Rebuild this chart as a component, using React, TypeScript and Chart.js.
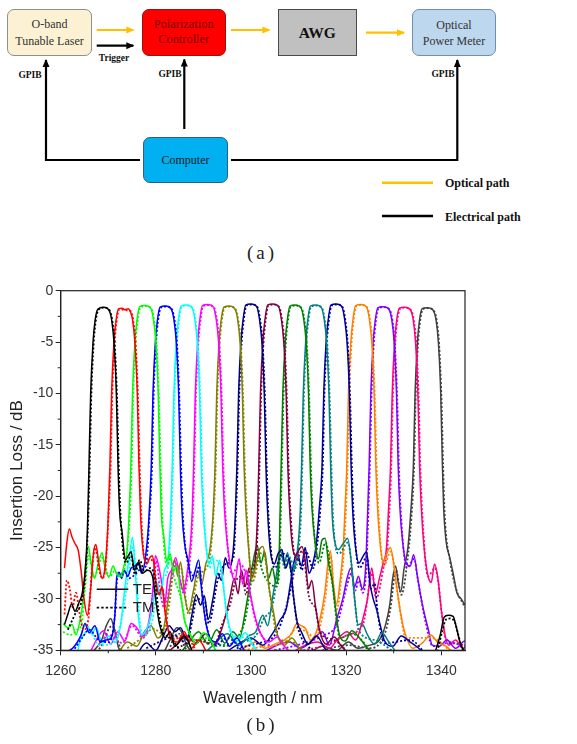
import React, { useEffect, useRef } from "react";
import { Chart, registerables } from "chart.js";

Chart.register(...registerables);

type Pt = [number, number | null];

const xTicks = [1260, 1280, 1300, 1320, 1340];
const xMinorTicks = [1270, 1290, 1310, 1330];
const yTicks = [0, -5, -10, -15, -20, -25, -30, -35];
const yMinorTicks = [-2.5, -7.5, -12.5, -17.5, -22.5, -27.5, -32.5];

const channelNames = ["CH1", "CH2", "CH3", "CH4", "CH5", "CH6", "CH7", "CH8", "CH9", "CH10", "CH11", "CH12", "CH13", "CH14", "CH15", "CH16"];
const channelColors = ["#000000", "#ff0000", "#00ff00", "#0000ff", "#00ffff", "#ff00ff", "#808000", "#000080", "#800040", "#008000", "#008080", "#0000a0", "#ff8000", "#8000ff", "#ff0080", "#404040"];

const ch01TE: Pt[] = [[1260.8,-32.5],[1261.5,-31.5],[1262.3,-30.5],[1263.0,-31.2],[1263.8,-30.4],[1264.5,-29.5],[1265.1,-27.5],[1265.6,-23.5],[1265.95,-17],[1266.3,-10],[1266.8,-5],[1267.2,-3],[1267.8,-1.8],[1269.0,-1.6],[1270.1,-1.85],[1270.7,-2.8],[1271.2,-5],[1271.7,-10],[1272.05,-17],[1272.4,-21.5],[1272.9,-23.5],[1273.6,-26.2],[1274.2,-25.8],[1274.8,-25.4],[1275.5,-27.2],[1276.4,-26.4],[1277.2,-27.5],[1278.2,-27.2],[1279.3,-27.8],[1280.1,-30.5],[1280.8,-32.5],[1282.0,-33.8],[1283.0,-33.2],[1284.0,-34.6],[1286.0,-33.6],[1288.0,-35.5],[1300,null],[1338.5,-35.5],[1339.8,-33.5],[1340.6,-31.8],[1341.5,-31.6],[1342.5,-31.7],[1343.2,-32.8],[1344.0,-34.3],[1345.0,-35.2]];
const ch01TM: Pt[] = [[1261.5,-33],[1263.0,-31.5],[1264.5,-30],[1265.3,-27],[1265.8,-22],[1266.1,-17],[1266.45,-10],[1266.95,-5],[1267.35,-3],[1267.95,-1.85],[1269.15,-1.65],[1270.25,-1.9],[1270.85,-2.9],[1271.35,-5.2],[1271.85,-10.5],[1272.2,-17],[1272.6,-22],[1273.7,-26.5],[1274.8,-25.8],[1275.6,-27.6],[1276.6,-26.2],[1277.6,-27.3],[1278.8,-27.0],[1279.8,-28.0],[1280.5,-31],[1281.3,-33],[1283.0,-33.8],[1286.0,-35.5],[1300,null],[1339.0,-35.5],[1340.2,-33.2],[1341.0,-32],[1342.0,-31.9],[1342.9,-32.3],[1343.6,-33.5],[1344.5,-35],[1345.5,-35.5]];

const ch02TE: Pt[] = [[1260.8,-27],[1261.3,-24.5],[1261.8,-23.2],[1262.4,-24],[1263.0,-24.6],[1263.7,-25.3],[1264.3,-27.3],[1264.9,-30],[1265.6,-31.6],[1266.3,-29],[1266.9,-25.5],[1267.4,-24.7],[1268.0,-26.5],[1268.7,-28.0],[1269.3,-27],[1269.9,-23],[1270.35,-17],[1270.7,-10],[1271.2,-5],[1271.6,-3],[1272.2,-1.75],[1272.9,-1.7],[1273.5,-1.85],[1274.2,-1.75],[1274.5,-1.9],[1275.1,-2.8],[1275.6,-5],[1276.1,-10],[1276.45,-17],[1276.8,-22],[1277.4,-25.6],[1278.1,-26.6],[1278.7,-26.0],[1279.3,-25.8],[1280.0,-28.3],[1280.7,-29.6],[1281.3,-28.8],[1282.0,-31.5],[1283.0,-33.6],[1284.5,-34.2],[1286.0,-33.2],[1287.5,-34.8],[1289.0,-34],[1291.0,-35.5]];
const ch02TM: Pt[] = [[1260.8,-31.5],[1261.3,-28.2],[1261.9,-29],[1262.5,-30.8],[1263.2,-29.4],[1264.0,-31.5],[1264.8,-33],[1265.8,-32],[1266.6,-27],[1267.3,-25],[1268.0,-27],[1268.8,-28.0],[1269.5,-26.5],[1270.05,-22],[1270.5,-17],[1270.85,-10],[1271.35,-5],[1271.75,-3],[1272.35,-1.8],[1273.65,-1.9],[1274.65,-1.95],[1275.25,-2.9],[1275.75,-5.2],[1276.25,-10.5],[1276.6,-17],[1277.0,-22.5],[1277.6,-26],[1278.9,-26.2],[1279.6,-26.5],[1280.4,-29.5],[1281.4,-29],[1282.2,-32],[1283.5,-34],[1286.0,-33.5],[1289.0,-35.5]];

const ch03TE: Pt[] = [[1260.5,-32.4],[1261.5,-32.8],[1262.4,-32.5],[1263.2,-33.5],[1264.0,-32.2],[1264.6,-30.5],[1265.2,-27],[1265.8,-24.9],[1266.4,-26.5],[1267.1,-28.0],[1267.9,-26.5],[1268.7,-25.5],[1269.4,-27.2],[1270.2,-27.8],[1271.0,-26.8],[1271.7,-27.5],[1272.5,-27.8],[1273.3,-26.8],[1274.0,-25],[1274.4,-21.5],[1274.75,-17],[1275.1,-10],[1275.6,-5],[1276.0,-3],[1276.6,-1.55],[1277.7,-1.45],[1278.9,-1.7],[1279.5,-2.8],[1280.0,-5],[1280.5,-10],[1280.85,-17],[1281.2,-22],[1281.7,-24],[1282.3,-26.3],[1283.0,-25.6],[1283.7,-27.3],[1284.4,-26.8],[1285.2,-29.5],[1286.0,-32],[1287.0,-33.2],[1288.5,-34.4],[1290.0,-33.3],[1291.5,-34],[1293.0,-35.5]];
const ch03TM: Pt[] = [[1260.5,-33.2],[1262.0,-33.5],[1263.5,-33],[1264.4,-32.4],[1265.1,-29],[1265.9,-25.8],[1267.0,-27.9],[1268.7,-26],[1270.2,-27.9],[1271.3,-27.3],[1272.6,-27.9],[1273.6,-26.5],[1274.5,-22],[1274.9,-17],[1275.25,-10],[1275.75,-5],[1276.15,-3],[1276.75,-1.6],[1277.85,-1.5],[1279.05,-1.75],[1279.65,-2.9],[1280.15,-5.2],[1280.65,-10.5],[1281.0,-17],[1281.4,-22.5],[1282.4,-26.8],[1283.1,-26],[1283.8,-27.8],[1285.3,-30],[1286.3,-32.5],[1288.5,-34],[1291.0,-33.8],[1293.0,-35.5]];

const ch04TE: Pt[] = [[1260.5,-35.2],[1262.5,-34.8],[1264.3,-33.5],[1265.1,-32.4],[1266.0,-33.3],[1267.2,-32.6],[1268.3,-34.2],[1269.5,-34.0],[1270.6,-33.8],[1271.4,-31.5],[1271.8,-27.8],[1272.3,-27.4],[1272.8,-28.0],[1273.4,-27.2],[1274.1,-27.8],[1274.8,-27.0],[1275.6,-26.8],[1276.3,-26.5],[1277.0,-27.5],[1277.8,-26],[1278.5,-22.5],[1279.05,-17],[1279.4,-10],[1279.9,-5],[1280.3,-3],[1280.9,-1.6],[1282.0,-1.5],[1283.2,-1.75],[1283.8,-2.8],[1284.3,-5],[1284.8,-10],[1285.15,-17],[1285.5,-21.5],[1286.1,-24.8],[1286.8,-26.3],[1287.5,-28.3],[1288.3,-27.2],[1289.0,-26.2],[1289.7,-29.5],[1290.4,-32],[1291.2,-33.6],[1292.5,-34.2],[1294.0,-33.4],[1295.5,-34.6],[1297.0,-33.8],[1299.0,-35.5]];
const ch04TM: Pt[] = [[1262.0,-35.5],[1264.5,-33.8],[1266.0,-33],[1268.0,-34],[1270.2,-34.2],[1271.3,-32],[1271.9,-28],[1272.6,-27.6],[1273.5,-27.4],[1274.3,-28],[1275.7,-27.6],[1276.5,-27.2],[1277.9,-26.8],[1278.6,-22.5],[1279.2,-17],[1279.55,-10],[1280.05,-5],[1280.45,-3],[1281.05,-1.65],[1282.15,-1.55],[1283.35,-1.8],[1283.95,-2.9],[1284.45,-5.2],[1284.95,-10.5],[1285.3,-17],[1285.7,-22],[1286.9,-26.8],[1288.4,-27.8],[1289.1,-26.8],[1289.9,-30],[1290.6,-32.5],[1292.5,-34.5],[1295.0,-33.8],[1299.0,-35.5]];

const ch05TE: Pt[] = [[1263.5,-35.3],[1264.5,-33.2],[1265.5,-32.5],[1266.4,-33.4],[1267.5,-32.8],[1268.7,-34.3],[1270.0,-33.6],[1271.5,-34.2],[1272.6,-32.5],[1273.6,-28.5],[1274.4,-26],[1275.1,-24.0],[1275.7,-27.5],[1276.3,-31.5],[1277.0,-33.5],[1278.0,-33.0],[1279.0,-31.6],[1280.2,-28.4],[1281.0,-29.8],[1281.8,-27.2],[1282.5,-26.4],[1283.1,-22],[1283.45,-17],[1283.8,-10],[1284.3,-5],[1284.7,-3],[1285.3,-1.5],[1286.4,-1.4],[1287.6,-1.65],[1288.2,-2.8],[1288.7,-5],[1289.2,-10],[1289.55,-17],[1289.9,-21],[1290.5,-24.6],[1291.2,-26.6],[1291.9,-25.8],[1292.6,-27.8],[1293.4,-26.2],[1294.1,-28.4],[1294.9,-31.4],[1295.8,-33.2],[1297.2,-34.1],[1298.8,-33.3],[1300.5,-34.6],[1302.0,-35.5]];
const ch05TM: Pt[] = [[1264.0,-34],[1266.0,-33],[1268.0,-34.5],[1271.0,-34.3],[1272.8,-32],[1274.5,-26.8],[1275.2,-24.8],[1276.0,-28.5],[1276.7,-32.5],[1277.5,-33.5],[1279.4,-31.8],[1280.3,-28.8],[1281.9,-27.8],[1282.6,-26.8],[1283.25,-22],[1283.6,-17],[1283.95,-10],[1284.45,-5],[1284.85,-3],[1285.45,-1.55],[1286.55,-1.45],[1287.75,-1.7],[1288.35,-2.9],[1288.85,-5.2],[1289.35,-10.5],[1289.7,-17],[1290.1,-21.5],[1291.3,-27],[1292.0,-26.2],[1293.5,-26.6],[1295.0,-31.8],[1296.0,-33.5],[1298.8,-33.8],[1302.0,-35.5]];

const ch06TE: Pt[] = [[1266.0,-35.4],[1267.5,-34],[1269.0,-33.1],[1270.5,-34.4],[1272.0,-33.2],[1273.5,-34.1],[1274.8,-32.4],[1276.0,-32.8],[1277.2,-33.6],[1278.4,-32.5],[1279.3,-29.5],[1279.9,-25.8],[1280.6,-26.8],[1281.3,-28.6],[1281.9,-30.4],[1282.5,-28],[1283.3,-27.2],[1284.2,-26],[1285.0,-28],[1285.8,-29.2],[1286.6,-27.4],[1287.3,-24.5],[1287.7,-21],[1287.95,-17],[1288.3,-10],[1288.8,-5],[1289.2,-3],[1289.8,-1.45],[1290.9,-1.35],[1292.1,-1.6],[1292.7,-2.8],[1293.2,-5],[1293.7,-10],[1294.05,-17],[1294.4,-21],[1295.0,-24.5],[1295.8,-27.1],[1296.6,-28.3],[1297.5,-26.1],[1298.3,-28.6],[1299.0,-27.2],[1299.9,-29.6],[1300.9,-31.8],[1302.2,-33.5],[1303.8,-34.2],[1305.5,-33.7],[1307.0,-34.6],[1309.0,-35.5]];
const ch06TM: Pt[] = [[1268.0,-34.5],[1270.0,-33.5],[1273.0,-34.3],[1275.0,-32.6],[1277.3,-33.8],[1278.6,-32.4],[1279.5,-29],[1280.1,-26.3],[1280.9,-29.2],[1281.7,-30.8],[1283.4,-27.8],[1284.3,-26.6],[1285.9,-29.5],[1286.7,-27.8],[1287.4,-25],[1287.8,-21.5],[1288.1,-17],[1288.45,-10],[1288.95,-5],[1289.35,-3],[1289.95,-1.5],[1291.05,-1.4],[1292.25,-1.65],[1292.85,-2.9],[1293.35,-5.2],[1293.85,-10.5],[1294.2,-17],[1294.6,-21.5],[1296.0,-27.6],[1297.6,-26.6],[1299.1,-27.8],[1300.0,-30],[1301.0,-32.2],[1303.8,-34.5],[1309.0,-35.5]];

const ch07TE: Pt[] = [[1272.0,-35.4],[1274.0,-34.2],[1276.0,-34.6],[1277.6,-33.2],[1279.0,-32.6],[1280.4,-33.8],[1281.6,-33],[1282.6,-30],[1283.5,-27],[1284.0,-26.2],[1284.6,-27.8],[1285.2,-26.4],[1286.0,-29.5],[1286.9,-31.2],[1287.9,-29.2],[1288.8,-27.2],[1289.6,-28.6],[1290.5,-26.6],[1291.3,-25.4],[1292.0,-22],[1292.45,-17],[1292.8,-10],[1293.3,-5],[1293.7,-3],[1294.3,-1.6],[1295.4,-1.5],[1296.6,-1.75],[1297.2,-2.8],[1297.7,-5],[1298.2,-10],[1298.55,-17],[1298.9,-21],[1299.5,-25],[1300.2,-28],[1300.9,-27],[1301.7,-25.3],[1302.5,-24.9],[1303.2,-26.5],[1303.9,-29.2],[1304.7,-31.2],[1305.6,-33.5],[1307.0,-34.5],[1308.6,-33.8],[1310.2,-34.8],[1312.0,-35.5]];
const ch07TM: Pt[] = [[1274.0,-34.8],[1277.6,-33.6],[1279.4,-32.9],[1281.6,-33.4],[1282.8,-30.5],[1284.0,-26.8],[1285.3,-27],[1286.9,-31.5],[1288.9,-27.8],[1290.6,-27],[1291.4,-25.8],[1292.1,-22],[1292.6,-17],[1292.95,-10],[1293.45,-5],[1293.85,-3],[1294.45,-1.65],[1295.55,-1.55],[1296.75,-1.8],[1297.35,-2.9],[1297.85,-5.2],[1298.35,-10.5],[1298.7,-17],[1299.1,-21.5],[1300.3,-28.4],[1301.8,-25.8],[1302.6,-25.4],[1304.0,-29.6],[1305.7,-33.8],[1308.6,-34.2],[1312.0,-35.5]];

const ch08TE: Pt[] = [[1276.0,-35.4],[1278.0,-34.3],[1280.0,-35],[1281.6,-33.6],[1282.8,-32.6],[1284.0,-33.2],[1285.2,-32.8],[1286.5,-34],[1287.6,-31.5],[1288.5,-29.6],[1289.4,-30.6],[1290.2,-29.7],[1291.0,-32],[1292.0,-30],[1293.0,-27.5],[1293.8,-28.2],[1294.6,-26],[1295.4,-27],[1296.2,-25.6],[1296.7,-22],[1297.05,-17],[1297.4,-10],[1297.9,-5],[1298.3,-3],[1298.9,-1.4],[1300.0,-1.3],[1301.2,-1.55],[1301.8,-2.8],[1302.3,-5],[1302.8,-10],[1303.15,-17],[1303.5,-21.5],[1304.1,-25.4],[1304.9,-26.6],[1305.7,-25.6],[1306.5,-25.2],[1307.3,-27],[1308.1,-26.1],[1308.9,-29.6],[1309.7,-32.2],[1310.6,-33.2],[1312.0,-34.4],[1313.8,-33.6],[1315.5,-34.8],[1317.0,-35.5]];
const ch08TM: Pt[] = [[1278.0,-34.8],[1281.6,-34],[1284.0,-33.6],[1286.5,-34.3],[1287.7,-32],[1288.6,-30],[1290.3,-30.2],[1291.1,-32.4],[1293.1,-28],[1294.7,-26.6],[1296.3,-26],[1296.8,-22],[1297.2,-17],[1297.55,-10],[1298.05,-5],[1298.45,-3],[1299.05,-1.45],[1300.15,-1.35],[1301.35,-1.6],[1301.95,-2.9],[1302.45,-5.2],[1302.95,-10.5],[1303.3,-17],[1303.7,-22],[1305.0,-27],[1306.6,-25.6],[1308.2,-26.6],[1309.0,-30],[1309.8,-32.6],[1312.0,-34.6],[1317.0,-35.5]];

const ch09TE: Pt[] = [[1282.0,-35.4],[1284.5,-34.4],[1286.5,-33.6],[1288.5,-34.3],[1290.5,-33.4],[1292.3,-34.6],[1293.8,-33],[1294.7,-31.6],[1295.6,-29.8],[1296.5,-28],[1297.3,-29.5],[1298.0,-27.2],[1298.8,-28.8],[1299.6,-27],[1300.4,-27.8],[1301.0,-25.5],[1301.4,-21.5],[1301.65,-17],[1302.0,-10],[1302.5,-5],[1302.9,-3],[1303.5,-1.4],[1304.6,-1.3],[1305.8,-1.55],[1306.4,-2.8],[1306.9,-5],[1307.4,-10],[1307.75,-17],[1308.1,-21],[1308.7,-24.8],[1309.4,-25.8],[1310.1,-25.2],[1310.7,-24.9],[1311.4,-26.2],[1312.1,-29],[1312.8,-28.2],[1313.5,-30.5],[1314.4,-33],[1315.8,-34.4],[1317.5,-33.7],[1319.0,-34.6],[1321.0,-35.5]];
const ch09TM: Pt[] = [[1284.5,-34.8],[1288.5,-34],[1292.3,-34.4],[1294.0,-32.4],[1295.7,-30.4],[1296.6,-28.5],[1298.1,-27.8],[1299.0,-29.6],[1299.7,-27.4],[1301.1,-25.8],[1301.5,-22],[1301.8,-17],[1302.15,-10],[1302.65,-5],[1303.05,-3],[1303.65,-1.45],[1304.75,-1.35],[1305.95,-1.6],[1306.55,-2.9],[1307.05,-5.2],[1307.55,-10.5],[1307.9,-17],[1308.3,-21.5],[1309.5,-26.2],[1310.8,-25.3],[1312.2,-29.8],[1313.6,-31],[1314.5,-33.2],[1317.5,-34],[1321.0,-35.5]];

const ch10TE: Pt[] = [[1285.0,-35.4],[1287.0,-34.2],[1289.0,-33.2],[1291.0,-34.4],[1292.8,-33.0],[1294.5,-34.3],[1296.2,-33.2],[1297.6,-33.8],[1298.7,-31.5],[1299.6,-29],[1300.4,-26.5],[1301.3,-24.8],[1302.1,-26.5],[1302.9,-25.4],[1303.7,-28],[1304.5,-27],[1305.3,-28.5],[1305.9,-26.2],[1306.1,-22],[1306.35,-17],[1306.7,-10],[1307.2,-5],[1307.6,-3],[1308.2,-1.5],[1309.3,-1.4],[1310.5,-1.65],[1311.1,-2.8],[1311.6,-5],[1312.1,-10],[1312.45,-17],[1312.8,-21],[1313.5,-24.6],[1314.2,-26.1],[1314.9,-24.3],[1315.6,-24.1],[1316.3,-26.5],[1317.0,-28],[1317.8,-31],[1318.6,-33.5],[1319.8,-34.1],[1321.2,-33.1],[1322.8,-33.8],[1324.5,-34.8],[1326.0,-35.5]];
const ch10TM: Pt[] = [[1287.0,-34.6],[1291.0,-34],[1294.5,-34.6],[1297.6,-33.4],[1298.8,-32],[1300.5,-27],[1301.4,-25.2],[1302.2,-27],[1303.8,-28.4],[1305.4,-28.8],[1306.0,-26.6],[1306.25,-22],[1306.5,-17],[1306.85,-10],[1307.35,-5],[1307.75,-3],[1308.35,-1.55],[1309.45,-1.45],[1310.65,-1.7],[1311.25,-2.9],[1311.75,-5.2],[1312.25,-10.5],[1312.6,-17],[1313.0,-21.5],[1314.3,-26.5],[1315.7,-24.5],[1317.1,-28.5],[1318.7,-33.8],[1321.2,-33.4],[1326.0,-35.5]];

const ch11TE: Pt[] = [[1290.0,-35.4],[1292.5,-34.3],[1295.0,-33.4],[1297.5,-34.5],[1299.5,-33.6],[1301.0,-33.2],[1302.5,-31.6],[1303.5,-32.6],[1304.5,-30],[1305.4,-27.5],[1306.2,-25.3],[1307.0,-26.5],[1307.7,-25.5],[1308.5,-27.5],[1309.3,-26.6],[1310.0,-24.3],[1310.4,-21],[1310.65,-17],[1311.0,-10],[1311.5,-5],[1311.9,-3],[1312.5,-1.5],[1313.6,-1.4],[1314.8,-1.65],[1315.4,-2.8],[1315.9,-5],[1316.4,-10],[1316.75,-17],[1317.1,-22],[1317.7,-24.6],[1318.4,-25.2],[1319.1,-24.8],[1319.7,-24.4],[1320.3,-24.1],[1321.0,-26],[1321.8,-30],[1322.5,-32.5],[1323.3,-32.4],[1324.5,-33.5],[1326.0,-34.4],[1327.5,-33.3],[1329.0,-34.2],[1331.0,-35.5]];
const ch11TM: Pt[] = [[1292.5,-34.6],[1297.5,-34.2],[1301.0,-33.6],[1302.6,-32],[1304.6,-30.5],[1306.3,-25.8],[1307.1,-27],[1307.8,-25.8],[1309.4,-27],[1310.1,-24.8],[1310.55,-21.5],[1310.8,-17],[1311.15,-10],[1311.65,-5],[1312.05,-3],[1312.65,-1.55],[1313.75,-1.45],[1314.95,-1.7],[1315.55,-2.9],[1316.05,-5.2],[1316.55,-10.5],[1316.9,-17],[1317.3,-22.5],[1318.5,-25.6],[1320.4,-24.5],[1321.1,-26.5],[1321.9,-30.5],[1322.6,-33],[1326.0,-34],[1331.0,-35.5]];

const ch12TE: Pt[] = [[1294.0,-35.4],[1297.0,-34.5],[1300.0,-33.8],[1302.5,-34.5],[1304.5,-33.4],[1306.2,-32],[1307.4,-31],[1308.3,-28.5],[1309.0,-26.5],[1309.7,-25.5],[1310.6,-26.8],[1311.4,-25],[1312.2,-27.5],[1313.0,-26.6],[1313.7,-24.8],[1314.4,-21],[1314.95,-17],[1315.3,-10],[1315.8,-5],[1316.2,-3],[1316.8,-1.4],[1317.9,-1.3],[1319.1,-1.55],[1319.7,-2.8],[1320.2,-5],[1320.7,-10],[1321.05,-17],[1321.4,-21.5],[1322.0,-25],[1322.7,-26.5],[1323.5,-25.9],[1324.3,-25.4],[1325.0,-28.4],[1325.7,-30],[1326.4,-31],[1327.2,-32.6],[1328.0,-34],[1329.8,-34.6],[1331.6,-33.6],[1333.5,-34.2],[1335.0,-34.7],[1337.0,-35.5]];
const ch12TM: Pt[] = [[1297.0,-34.8],[1302.5,-34.2],[1304.5,-33.8],[1306.3,-32.4],[1308.4,-29],[1309.8,-26],[1310.7,-27.2],[1311.5,-25.4],[1313.1,-27],[1313.8,-25.2],[1314.55,-21.5],[1315.1,-17],[1315.45,-10],[1315.95,-5],[1316.35,-3],[1316.95,-1.45],[1318.05,-1.35],[1319.25,-1.6],[1319.85,-2.9],[1320.35,-5.2],[1320.85,-10.5],[1321.2,-17],[1321.6,-22],[1322.8,-27],[1324.4,-25.9],[1325.2,-29],[1326.0,-28.5],[1326.6,-31.2],[1328.1,-34.3],[1333.5,-34],[1337.0,-35.5]];

const ch13TE: Pt[] = [[1296.0,-35.4],[1298.5,-34.8],[1301.0,-34.2],[1303.0,-34.8],[1305.0,-34.4],[1307.0,-34],[1308.5,-33.4],[1309.7,-32.4],[1310.5,-32.6],[1311.5,-32.9],[1312.5,-34],[1313.5,-33.5],[1314.5,-32],[1315.5,-29.5],[1316.2,-26.5],[1316.7,-25.3],[1317.3,-28.5],[1318.0,-30.5],[1318.8,-28],[1319.4,-25],[1319.8,-21],[1320.15,-17],[1320.5,-10],[1321.0,-5],[1321.4,-3],[1322.0,-1.45],[1323.1,-1.35],[1324.3,-1.6],[1324.9,-2.8],[1325.4,-5],[1325.9,-10],[1326.25,-17],[1326.6,-21],[1327.2,-24.8],[1327.8,-26.4],[1328.6,-25.5],[1329.3,-25.0],[1330.0,-26.5],[1330.7,-29],[1331.5,-31.5],[1332.5,-33.5],[1334.0,-34.8],[1336.0,-34.3],[1337.8,-33.5],[1339.2,-34.2],[1341.0,-34.6],[1343.0,-35.5]];
const ch13TM: Pt[] = [[1298.5,-35],[1303.0,-34.6],[1307.0,-34.3],[1309.8,-32.8],[1311.6,-33.2],[1313.6,-33.8],[1315.6,-30],[1316.8,-25.8],[1317.4,-28.8],[1318.1,-31],[1318.9,-28.4],[1319.5,-25.5],[1319.95,-21.5],[1320.3,-17],[1320.65,-10],[1321.15,-5],[1321.55,-3],[1322.15,-1.5],[1323.25,-1.4],[1324.45,-1.65],[1325.05,-2.9],[1325.55,-5.2],[1326.05,-10.5],[1326.4,-17],[1326.8,-21.5],[1327.9,-26.8],[1329.4,-25.4],[1330.8,-29.4],[1332.6,-33.8],[1337.8,-33.8],[1343.0,-35.5]];

const ch14TE: Pt[] = [[1302.0,-35.4],[1305.0,-34.6],[1308.0,-34.2],[1310.5,-34.8],[1313.0,-34],[1315.0,-33.2],[1316.5,-34.5],[1318.0,-32],[1319.3,-30],[1320.2,-28],[1321.0,-27],[1321.8,-28.8],[1322.6,-27.8],[1323.4,-29],[1324.1,-27],[1324.5,-22],[1324.85,-17],[1325.2,-10],[1325.7,-5],[1326.1,-3],[1326.7,-1.65],[1327.8,-1.55],[1329.0,-1.8],[1329.6,-2.8],[1330.1,-5],[1330.6,-10],[1330.95,-17],[1331.3,-21],[1331.9,-24.5],[1332.7,-26.6],[1333.5,-26.8],[1334.2,-25.7],[1335.0,-27.8],[1335.8,-30],[1336.5,-31.5],[1337.3,-33],[1338.1,-34.5],[1339.6,-34.6],[1341.2,-34.0],[1343.0,-34.8],[1345.0,-34.1],[1346.0,-34.3]];
const ch14TM: Pt[] = [[1305.0,-35],[1310.5,-34.4],[1315.0,-33.6],[1318.1,-32.4],[1320.3,-28.5],[1321.1,-27.5],[1321.9,-29.2],[1322.7,-28.2],[1323.5,-29.4],[1324.2,-27.4],[1324.65,-22],[1325.0,-17],[1325.35,-10],[1325.85,-5],[1326.25,-3],[1326.85,-1.7],[1327.95,-1.6],[1329.15,-1.85],[1329.75,-2.9],[1330.25,-5.2],[1330.75,-10.5],[1331.1,-17],[1331.5,-21.5],[1332.8,-27],[1334.3,-26.1],[1335.1,-28.2],[1336.6,-32],[1338.2,-34.6],[1341.2,-34.3],[1346.0,-34.6]];

const ch15TE: Pt[] = [[1308.0,-35.4],[1311.0,-34.6],[1314.0,-34.2],[1316.5,-34.8],[1318.4,-33.8],[1320.2,-33.2],[1322.0,-34],[1323.5,-32],[1324.5,-30],[1325.4,-27],[1326.2,-29.5],[1327.0,-28],[1327.8,-26.5],[1328.5,-25],[1328.9,-21.5],[1329.35,-17],[1329.7,-10],[1330.2,-5],[1330.6,-3],[1331.2,-1.7],[1332.3,-1.6],[1333.5,-1.85],[1334.1,-2.8],[1334.6,-5],[1335.1,-10],[1335.45,-17],[1335.8,-21],[1336.4,-25],[1337.1,-27.5],[1337.9,-28.4],[1338.6,-26.6],[1339.3,-28],[1340.0,-31],[1340.8,-33.5],[1341.6,-34.5],[1343.0,-34.0],[1344.5,-34.8],[1346.0,-34.5]];
const ch15TM: Pt[] = [[1311.0,-35],[1316.5,-34.4],[1320.3,-33.5],[1323.6,-32.4],[1325.5,-27.5],[1326.3,-30],[1327.9,-26.9],[1328.6,-25.4],[1329.05,-22],[1329.5,-17],[1329.85,-10],[1330.35,-5],[1330.75,-3],[1331.35,-1.75],[1332.45,-1.65],[1333.65,-1.9],[1334.25,-2.9],[1334.75,-5.2],[1335.25,-10.5],[1335.6,-17],[1336.0,-21.5],[1337.2,-27.8],[1338.7,-27],[1339.4,-28.4],[1340.1,-31.4],[1340.9,-33.8],[1343.0,-34.3],[1346.0,-34.8]];

const ch16TE: Pt[] = [[1266.0,-35.5],[1268.6,-34],[1269.6,-32.6],[1270.5,-31.9],[1271.3,-33],[1272.2,-34.8],[1273.5,-35.5],[1276,null],[1281.5,-35.4],[1283.2,-33.8],[1284.4,-32.8],[1285.4,-33.2],[1286.4,-34.4],[1288.0,-35.5],[1300,null],[1312.0,-35.4],[1315.0,-34.6],[1318.0,-35],[1320.5,-34.2],[1322.5,-34.8],[1325.0,-34.5],[1327.0,-34.0],[1328.3,-32.5],[1329.2,-30.5],[1329.8,-28],[1330.4,-26.8],[1331.0,-28.5],[1331.5,-29.3],[1332.2,-27],[1333.0,-25],[1333.6,-21.5],[1334.15,-17],[1334.5,-10],[1335.0,-5],[1335.4,-3],[1336.0,-1.75],[1337.1,-1.65],[1338.3,-1.9],[1338.9,-2.8],[1339.4,-5],[1339.9,-10],[1340.25,-17],[1340.5,-21],[1341.0,-24.3],[1341.8,-26],[1342.5,-27.5],[1343.3,-29.4],[1344.2,-30],[1345.0,-30.6],[1346.0,-31]];
const ch16TM: Pt[] = [[1267.0,-35.5],[1269.0,-34.2],[1270.0,-33],[1270.9,-32.6],[1271.8,-33.8],[1273.0,-35.5],[1276,null],[1282.5,-35.4],[1284.0,-33.6],[1285.0,-33.4],[1286.0,-34.6],[1287.5,-35.5],[1300,null],[1315.0,-35],[1320.5,-34.5],[1325.0,-34.8],[1327.1,-34.3],[1328.4,-33],[1329.3,-31],[1330.5,-27.2],[1331.6,-29.6],[1333.1,-25.4],[1333.75,-22],[1334.3,-17],[1334.65,-10],[1335.15,-5],[1335.55,-3],[1336.15,-1.8],[1337.25,-1.7],[1338.45,-1.95],[1339.05,-2.9],[1339.55,-5.2],[1340.05,-10.5],[1340.4,-17],[1340.7,-21.5],[1341.9,-26.4],[1343.4,-29.4],[1344.3,-30.2],[1345.0,-30.8],[1346.0,-31.2]];

const teSeries = [ch01TE, ch02TE, ch03TE, ch04TE, ch05TE, ch06TE, ch07TE, ch08TE, ch09TE, ch10TE, ch11TE, ch12TE, ch13TE, ch14TE, ch15TE, ch16TE];
const tmSeries = [ch01TM, ch02TM, ch03TM, ch04TM, ch05TM, ch06TM, ch07TM, ch08TM, ch09TM, ch10TM, ch11TM, ch12TM, ch13TM, ch14TM, ch15TM, ch16TM];

const legendLabels = ["TE", "TM"];

const SANS = '"Liberation Sans", Arial, sans-serif';
const SERIF = '"Liberation Serif", "Times New Roman", serif';

const framePlugin = {
  id: "frame",
  afterDraw(chart: any) {
    const { ctx, chartArea: a, scales } = chart;
    const xs = scales.x;
    const ys = scales.y;
    ctx.save();
    ctx.strokeStyle = "#222";
    ctx.lineWidth = 1.2;
    ctx.strokeRect(a.left, a.top, a.right - a.left, a.bottom - a.top);
    ctx.lineWidth = 1;
    ctx.beginPath();
    for (const v of yMinorTicks) {
      const p = ys.getPixelForValue(v);
      ctx.moveTo(a.left - 3, p);
      ctx.lineTo(a.left, p);
    }
    for (const v of xMinorTicks) {
      const p = xs.getPixelForValue(v);
      ctx.moveTo(p, a.bottom);
      ctx.lineTo(p, a.bottom + 3);
    }
    ctx.stroke();
    // legend
    const lx0 = a.left + 36;
    const lx1 = a.left + 67.6;
    const ly0 = a.top + 298.6;
    const ly1 = a.top + 317;
    ctx.strokeStyle = "#111";
    ctx.lineWidth = 1.5;
    ctx.setLineDash([]);
    ctx.beginPath();
    ctx.moveTo(lx0, ly0);
    ctx.lineTo(lx1, ly0);
    ctx.stroke();
    ctx.lineWidth = 1.7;
    ctx.setLineDash([2.5, 2]);
    ctx.beginPath();
    ctx.moveTo(lx0, ly1);
    ctx.lineTo(lx1, ly1);
    ctx.stroke();
    ctx.setLineDash([]);
    ctx.fillStyle = "#222";
    ctx.font = `15px ${SANS}`;
    ctx.textBaseline = "middle";
    ctx.textAlign = "left";
    ctx.fillText(legendLabels[0], lx1 + 4.5, ly0 + 0.5);
    ctx.fillText(legendLabels[1], lx1 + 4.5, ly1 + 0.5);
    ctx.restore();
  },
};

function Box(props: { left: number; top: number; width: number; height: number; bg: string; border: string; radius: number; color: string; lines: string[]; size: number; bold?: boolean; lineHeight?: number; borderWidth?: number }) {
  const { left, top, width, height, bg, border, radius, color, lines, size, bold, lineHeight, borderWidth } = props;
  return (
    <div
      style={{
        position: "absolute",
        left,
        top,
        width,
        height,
        boxSizing: "border-box",
        background: bg,
        border: `${borderWidth ?? 1}px solid ${border}`,
        borderRadius: radius,
        display: "flex",
        flexDirection: "column",
        alignItems: "center",
        justifyContent: "center",
        fontFamily: SERIF,
        fontSize: size,
        fontWeight: bold ? "bold" : "normal",
        color,
        lineHeight: `${lineHeight ?? 16}px`,
        whiteSpace: "nowrap",
      }}
    >
      {lines.map((l, i) => (
        <div key={i}>{l}</div>
      ))}
    </div>
  );
}

function Label(props: { cx: number; cy: number; text: string; size: number; bold?: boolean; left?: number; spacing?: number; color?: string }) {
  const { cx, cy, text, size, bold, left, spacing, color } = props;
  const style: any = {
    position: "absolute",
    top: cy,
    transform: left !== undefined ? "translate(0, -50%)" : "translate(-50%, -50%)",
    left: left !== undefined ? left : cx,
    fontFamily: SERIF,
    fontSize: size,
    fontWeight: bold ? "bold" : "normal",
    color: color ?? "#111",
    whiteSpace: "nowrap",
    lineHeight: 1,
    letterSpacing: spacing ?? 0,
  };
  return <div style={style}>{text}</div>;
}

function Diagram() {
  const orange = "#ffc000";
  return (
    <>
      <svg width={577} height={260} style={{ position: "absolute", left: 0, top: 0 }}>
        <defs>
          <marker id="ahO" markerUnits="userSpaceOnUse" markerWidth={8} markerHeight={8} refX={7} refY={4} orient="auto">
            <path d="M0,0.5 L8,4 L0,7.5 z" fill={orange} />
          </marker>
          <marker id="ahK" markerUnits="userSpaceOnUse" markerWidth={8} markerHeight={8} refX={7} refY={4} orient="auto">
            <path d="M0,0.5 L8,4 L0,7.5 z" fill="#000" />
          </marker>
        </defs>
        <line x1={96.7} y1={30} x2={133.3} y2={30} stroke={orange} strokeWidth={2.2} markerEnd="url(#ahO)" />
        <line x1={231} y1={30} x2={269.3} y2={30} stroke={orange} strokeWidth={2.2} markerEnd="url(#ahO)" />
        <line x1={366} y1={32.7} x2={404} y2={32.7} stroke={orange} strokeWidth={2.2} markerEnd="url(#ahO)" />
        <line x1={96.7} y1={45.7} x2={133.3} y2={45.7} stroke="#000" strokeWidth={2.2} markerEnd="url(#ahK)" />
        <polyline points="140,160 46,160 46,60" fill="none" stroke="#000" strokeWidth={2.2} markerEnd="url(#ahK)" />
        <polyline points="231,160 457.3,160 457.3,60" fill="none" stroke="#000" strokeWidth={2.2} markerEnd="url(#ahK)" />
        <line x1={184.3} y1={129} x2={184.3} y2={59.5} stroke="#000" strokeWidth={2.2} markerEnd="url(#ahK)" />
        <line x1={382} y1={182.7} x2={433} y2={182.7} stroke={orange} strokeWidth={2.4} />
        <line x1={382} y1={216} x2={433} y2={216} stroke="#000" strokeWidth={2.4} />
      </svg>
      <Box left={7} top={9} width={85} height={47} bg="#fdf1d3" border="#8f8f8f" radius={7} color="#333" lines={["O-band", "Tunable Laser"]} size={12} lineHeight={16.7} />
      <Box left={141.7} top={9} width={84} height={46.7} bg="#ff0000" border="#9c1010" radius={7} color="#7a0000" lines={["Polarization", "Controller"]} size={12.4} lineHeight={15.7} />
      <Box left={278} top={9.3} width={78.7} height={46.7} bg="#c0c0c0" border="#4a4a4a" radius={0} color="#111" lines={["AWG"]} size={15.5} bold borderWidth={1.5} />
      <Box left={412} top={9} width={84} height={47} bg="#bdd7ee" border="#6f8fb3" radius={7} color="#333" lines={["Optical", "Power Meter"]} size={12} lineHeight={16} />
      <Box left={143.3} top={136.7} width={84.4} height={46.6} bg="#00b0f0" border="#2a5f86" radius={7} color="#1a1a1a" lines={["Computer"]} size={12} />
      <Label cx={114} cy={58.5} text="Trigger" size={9.5} bold />
      <Label cx={30} cy={76} text="GPIB" size={9.5} bold />
      <Label cx={170} cy={74.5} text="GPIB" size={9.5} bold />
      <Label cx={443} cy={74.5} text="GPIB" size={9.5} bold />
      <Label cx={0} left={445} cy={183} text="Optical path" size={12} bold />
      <Label cx={0} left={445} cy={216.5} text="Electrical path" size={12} bold />
      <Label cx={262} cy={252} text="(a)" size={19} spacing={3} color="#222" />
    </>
  );
}

export default function App() {
  const canvasRef = useRef<HTMLCanvasElement>(null);

  useEffect(() => {
    const canvas = canvasRef.current;
    if (!canvas) return;
    const datasets: any[] = [];
    for (let i = 0; i < channelNames.length; i++) {
      datasets.push({
        label: `${channelNames[i]} TM`,
        data: tmSeries[i].map(([x, y]) => ({ x, y })),
        borderColor: channelColors[i],
        backgroundColor: channelColors[i],
        borderWidth: 1.8,
        borderDash: [2, 2],
        pointRadius: 0,
        cubicInterpolationMode: "monotone",
        fill: false,
        clip: 0,
      });
      datasets.push({
        label: `${channelNames[i]} TE`,
        data: teSeries[i].map(([x, y]) => ({ x, y })),
        borderColor: channelColors[i],
        backgroundColor: channelColors[i],
        borderWidth: 1.5,
        pointRadius: 0,
        cubicInterpolationMode: "monotone",
        fill: false,
        clip: 0,
      });
    }
    const chart = new Chart(canvas, {
      type: "line",
      data: { datasets },
      options: {
        animation: false,
        responsive: false,
        devicePixelRatio: 1,
        events: [],
        layout: { padding: { top: 20.7, right: 112, left: 0, bottom: 0 } },
        plugins: { legend: { display: false }, tooltip: { enabled: false } },
        scales: {
          x: {
            type: "linear",
            min: 1260,
            max: 1345,
            afterBuildTicks: (s: any) => {
              s.ticks = xTicks.map((v) => ({ value: v }));
            },
            afterFit: (s: any) => {
              s.height = 69.7;
            },
            ticks: {
              font: { family: SANS, size: 14 },
              color: "#333",
              padding: 7,
              maxRotation: 0,
              autoSkip: false,
              callback: (v: any) => String(v),
            },
            grid: { drawOnChartArea: false, drawTicks: true, tickLength: 5, color: "#222", lineWidth: 1 },
            border: { display: true, color: "#222", width: 1.2 },
            title: { display: true, text: "Wavelength / nm", font: { family: SANS, size: 16 }, color: "#222", padding: { top: 4, bottom: 11.7 } },
          },
          y: {
            type: "linear",
            min: -35,
            max: 0,
            afterBuildTicks: (s: any) => {
              s.ticks = yTicks.map((v) => ({ value: v }));
            },
            afterFit: (s: any) => {
              s.width = 60.7;
            },
            ticks: {
              font: { family: SANS, size: 14 },
              color: "#333",
              padding: 2.4,
              autoSkip: false,
              callback: (v: any) => String(v),
            },
            grid: { drawOnChartArea: false, drawTicks: true, tickLength: 5, color: "#222", lineWidth: 1 },
            border: { display: true, color: "#222", width: 1.2 },
            title: { display: true, text: "Insertion Loss / dB", font: { family: SANS, size: 17 }, color: "#222", padding: { top: 7.6, bottom: 0 } },
          },
        },
      },
      plugins: [framePlugin],
    } as any);
    return () => chart.destroy();
  }, []);

  return (
    <div style={{ position: "absolute", left: 0, top: 0, width: 577, height: 744, background: "#fff", overflow: "hidden" }}>
      <Diagram />
      <canvas ref={canvasRef} width={577} height={450} style={{ position: "absolute", left: 0, top: 270, width: 577, height: 450 }} />
      <Label cx={262} cy={723.5} text="(b)" size={19} spacing={3} color="#222" />
    </div>
  );
}
